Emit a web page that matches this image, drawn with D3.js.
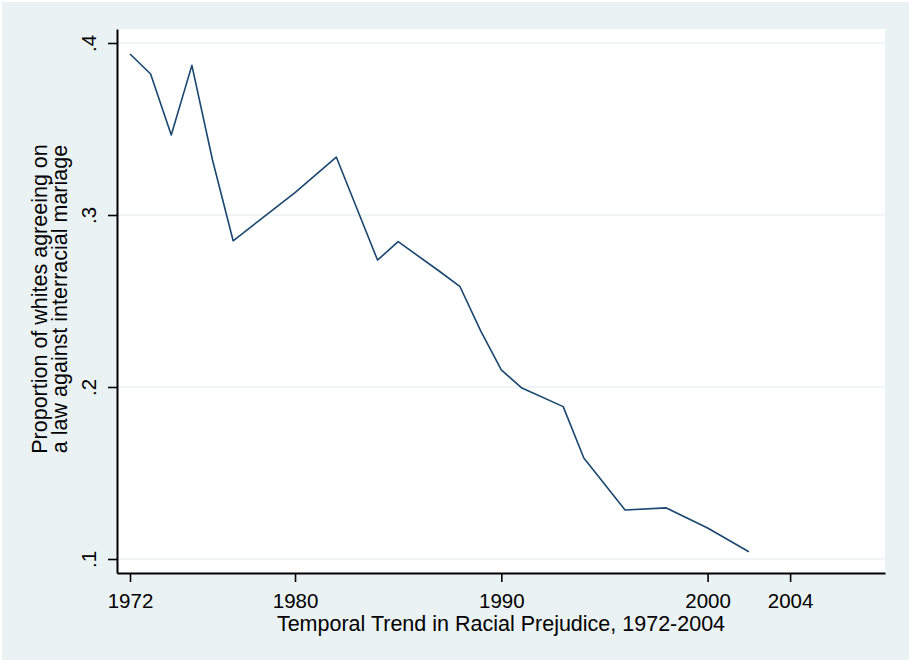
<!DOCTYPE html>
<html>
<head>
<meta charset="utf-8">
<script src="https://cdn.jsdelivr.net/npm/d3@7"></script>
<style>
  body { margin: 0; background: #fff; }
  text { font-family: "Liberation Sans", Arial, sans-serif; fill: #000; }
</style>
</head>
<body>
<div id="chart"></div>
<script>
// data
var years = [1972, 1973, 1974, 1975, 1976, 1977, 1980, 1982, 1984, 1985, 1987, 1988, 1989, 1990, 1991, 1993, 1994, 1996, 1998, 2000, 2002];
var shares = [0.3936, 0.382, 0.3465, 0.387, 0.332, 0.285, 0.313, 0.3337, 0.2738, 0.2845, 0.2673, 0.2583, 0.2326, 0.2099, 0.1994, 0.1886, 0.1587, 0.1285, 0.1297, 0.118, 0.1042];
var xTicks = [1972, 1980, 1990, 2000, 2004];
var yTicks = [0.1, 0.2, 0.3, 0.4];

var W = 909, H = 660;
var margin = { top: 29, right: 24, bottom: 87, left: 117 },
    width = W - margin.left - margin.right,
    height = H - margin.top - margin.bottom;

var svg = d3.select("#chart").append("svg")
    .attr("width", W)
    .attr("height", H);

// outer background
svg.append("rect")
    .attr("x", 2).attr("y", 2)
    .attr("width", W - 2).attr("height", H - 2)
    .attr("fill", "#eaf2f3");

var g = svg.append("g")
    .attr("transform", "translate(" + margin.left + "," + margin.top + ")");

g.append("rect")
    .attr("width", width)
    .attr("height", height)
    .attr("fill", "#fff");

var x = d3.scaleLinear()
    .domain([1971.37, 2008.6])
    .range([0, width]);
var y = d3.scaleLinear()
    .domain([0.4 + 14 / 1720, 0.1 - 14 / 1720])
    .range([0, height]);

// grid lines
g.selectAll(".grid")
    .data(yTicks)
    .enter().append("line")
    .attr("x1", 1).attr("x2", width)
    .attr("y1", function(d) { return y(d); })
    .attr("y2", function(d) { return y(d); })
    .attr("stroke", "#eaf2f3")
    .attr("stroke-width", 1.5);

// line
var line = d3.line()
    .x(function(d, i) { return x(years[i]); })
    .y(function(d) { return y(d); });

g.append("path")
    .datum(shares)
    .attr("fill", "none")
    .attr("stroke", "#1a476f")
    .attr("stroke-width", 1.6)
    .attr("stroke-linejoin", "round")
    .attr("d", line);

// x axis
var xAxis = g.append("g")
    .attr("transform", "translate(0," + height + ")")
    .call(d3.axisBottom(x).tickValues(xTicks).tickFormat(d3.format("d")).tickSize(9).tickPadding(11).tickSizeOuter(0));
xAxis.select(".domain").attr("stroke", "#000").attr("stroke-width", 2);
xAxis.selectAll(".tick line").attr("stroke", "#000").attr("stroke-width", 1.6);
xAxis.selectAll("text").attr("font-size", 20.5).attr("font-family", "Liberation Sans, Arial, sans-serif").attr("fill", "#000");

// y axis
var yAxis = g.append("g")
    .call(d3.axisLeft(y).tickValues(yTicks).tickFormat(function(d) { return "." + Math.round(d * 10); }).tickSize(9).tickSizeOuter(0));
yAxis.select(".domain").attr("stroke", "#000").attr("stroke-width", 2);
yAxis.selectAll(".tick line").attr("stroke", "#000").attr("stroke-width", 1.6);
yAxis.selectAll("text")
    .attr("font-size", 20.5)
    .attr("font-family", "Liberation Sans, Arial, sans-serif")
    .attr("fill", "#000")
    .attr("x", null).attr("dy", null)
    .attr("text-anchor", "middle")
    .attr("transform", "translate(-21,0) rotate(-90)");

// axis titles
svg.append("text")
    .attr("x", margin.left + width / 2)
    .attr("y", 631)
    .attr("text-anchor", "middle")
    .attr("font-size", 21.5)
    .text("Temporal Trend in Racial Prejudice, 1972-2004");

var yTitle = svg.append("text")
    .attr("transform", "translate(47," + (margin.top + height / 2 - 2) + ") rotate(-90)")
    .attr("text-anchor", "middle")
    .attr("font-size", 21.5);
yTitle.append("tspan").attr("x", 0).attr("dy", 0).text("Proportion of whites agreeing on");
yTitle.append("tspan").attr("x", 0).attr("dy", 20).text("a law against interracial mariage");
</script>
</body>
</html>
